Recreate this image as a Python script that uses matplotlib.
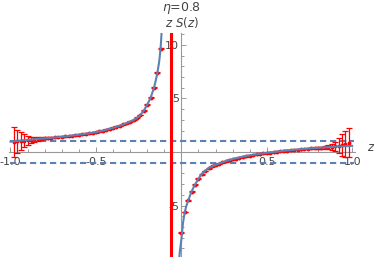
import matplotlib
matplotlib.use("Agg")
import matplotlib.pyplot as plt
import numpy as np

plt.rcParams['font.family'] = ['DejaVu Sans']
plt.rcParams['axes.unicode_minus'] = False

# theory curve (two branches around the pole)
curve_left_z = [-1.00, -0.95, -0.90, -0.85, -0.80, -0.75, -0.70, -0.65, -0.60, -0.55,
                -0.50, -0.45, -0.40, -0.35, -0.30, -0.28, -0.26, -0.24, -0.22, -0.20,
                -0.18, -0.16, -0.15, -0.14, -0.13, -0.125, -0.12, -0.115]
curve_left_f = [0.96, 1.05, 1.12, 1.20, 1.27, 1.34, 1.42, 1.51, 1.61, 1.72,
                1.85, 2.02, 2.25, 2.50, 2.83, 2.98, 3.18, 3.45, 3.85, 4.40,
                5.05, 6.00, 6.65, 7.40, 8.40, 9.10, 10.0, 11.3]
curve_right_z = [-0.012, -0.008, -0.004, 0.00, 0.005, 0.01, 0.02, 0.03, 0.04, 0.05,
                 0.06, 0.07, 0.08, 0.10, 0.12, 0.14, 0.16, 0.18, 0.20, 0.23,
                 0.26, 0.30, 0.35, 0.40, 0.45, 0.50, 0.55, 0.60, 0.65, 0.70,
                 0.75, 0.80, 0.85, 0.90, 0.95, 1.00]
curve_right_f = [-9.9, -9.2, -8.7, -8.2, -7.4, -6.6, -5.6, -5.0, -4.55, -4.1,
                 -3.7, -3.35, -3.05, -2.5, -2.05, -1.75, -1.5, -1.35, -1.2, -1.02,
                 -0.85, -0.66, -0.47, -0.31, -0.19, -0.08, 0.02, 0.11, 0.19, 0.26,
                 0.33, 0.39, 0.44, 0.49, 0.53, 0.57]

# simulated data points with error bars
data_left_z = [-0.98, -0.96, -0.94, -0.92, -0.90, -0.88, -0.86, -0.84, -0.82, -0.80,
               -0.78, -0.76, -0.74, -0.72, -0.70, -0.68, -0.66, -0.64, -0.62, -0.60,
               -0.58, -0.56, -0.54, -0.52, -0.50, -0.48, -0.46, -0.44, -0.42, -0.40,
               -0.38, -0.36, -0.34, -0.32, -0.30, -0.28, -0.26, -0.24, -0.22, -0.20,
               -0.18, -0.16, -0.14, -0.12]
data_left_f = [0.96, 0.98, 1.02, 1.05, 1.10, 1.14, 1.18, 1.21, 1.24, 1.27,
               1.30, 1.33, 1.36, 1.39, 1.42, 1.45, 1.49, 1.53, 1.57, 1.61,
               1.65, 1.70, 1.75, 1.80, 1.85, 1.91, 1.98, 2.06, 2.15, 2.25,
               2.35, 2.45, 2.57, 2.70, 2.83, 2.98, 3.18, 3.45, 3.85, 4.40,
               5.05, 6.00, 7.40, 9.65]
data_left_err = [1.40, 1.10, 0.80, 0.60, 0.43, 0.30, 0.21, 0.15, 0.11, 0.08,
                 0.06, 0.05, 0.04, 0.04, 0.04, 0.04, 0.04, 0.04, 0.04, 0.04,
                 0.04, 0.04, 0.04, 0.04, 0.04, 0.04, 0.04, 0.04, 0.04, 0.04,
                 0.04, 0.04, 0.04, 0.04, 0.04, 0.04, 0.04, 0.04, 0.04, 0.04,
                 0.04, 0.04, 0.04, 0.04]
data_right_z = [0.00, 0.02, 0.04, 0.06, 0.08, 0.10, 0.12, 0.14, 0.16, 0.18,
                0.20, 0.22, 0.24, 0.26, 0.28, 0.30, 0.32, 0.34, 0.36, 0.38,
                0.40, 0.42, 0.44, 0.46, 0.48, 0.50, 0.52, 0.54, 0.56, 0.58,
                0.60, 0.62, 0.64, 0.66, 0.68, 0.70, 0.72, 0.74, 0.76, 0.78,
                0.80, 0.82, 0.84, 0.86, 0.88, 0.90, 0.92, 0.94, 0.96, 0.98]
data_right_f = [-7.55, -5.6, -4.5, -3.7, -3.05, -2.5, -2.1, -1.78, -1.52, -1.35,
                -1.2, -1.08, -0.97, -0.87, -0.78, -0.69, -0.61, -0.54, -0.47, -0.40,
                -0.34, -0.28, -0.23, -0.18, -0.13, -0.09, -0.05, -0.01, 0.03, 0.07,
                0.10, 0.13, 0.16, 0.19, 0.22, 0.25, 0.28, 0.31, 0.33, 0.36,
                0.38, 0.40, 0.43, 0.45, 0.48, 0.52, 0.58, 0.65, 0.73, 0.88]
data_right_err = [0.05, 0.04, 0.04, 0.04, 0.04, 0.04, 0.04, 0.04, 0.04, 0.04,
                  0.04, 0.04, 0.04, 0.04, 0.04, 0.04, 0.04, 0.04, 0.04, 0.04,
                  0.04, 0.04, 0.04, 0.04, 0.04, 0.04, 0.04, 0.04, 0.04, 0.04,
                  0.04, 0.04, 0.04, 0.04, 0.04, 0.04, 0.04, 0.04, 0.05, 0.06,
                  0.08, 0.10, 0.14, 0.20, 0.30, 0.45, 0.70, 1.00, 1.20, 1.38]

pole_z = -0.06
bound_levels = [1.0, -1.0]
xticks_major = [-1.0, -0.5, 0.5, 1.0]
yticks_major = [-5, 5, 10]

blue = '#5E81B5'
grey = '#444444'

fig = plt.figure(figsize=(3.74, 2.57), dpi=100)
ax = fig.add_axes([0.0235, 0.0, 0.925, 0.8716])
ax.set_xlim(-1.01, 1.015)
ax.set_ylim(-9.8, 11.1)

for lev in bound_levels:
    ax.plot([-1.0, 1.01], [lev, lev], color=blue, lw=1.5, ls=(0, (3, 1.8)), zorder=2)

ax.axvline(pole_z, color='red', lw=2.2, zorder=3)

ax.errorbar(data_left_z, data_left_f, yerr=data_left_err, fmt='o', ms=1.8,
            color='red', ecolor='red', elinewidth=0.9, capsize=2, capthick=0.9, zorder=3)
ax.errorbar(data_right_z, data_right_f, yerr=data_right_err, fmt='o', ms=1.8,
            color='red', ecolor='red', elinewidth=0.9, capsize=2, capthick=0.9, zorder=3)

ax.plot(curve_left_z, curve_left_f, color=blue, lw=1.5, zorder=4)
ax.plot(curve_right_z, curve_right_f, color=blue, lw=1.5, zorder=4)

# axes through the origin
for s in ['top', 'right']:
    ax.spines[s].set_visible(False)
ax.spines['left'].set_position(('data', 0))
ax.spines['bottom'].set_position(('data', 0))
for s in ['left', 'bottom']:
    ax.spines[s].set_color('#999999')
    ax.spines[s].set_linewidth(0.8)
    ax.spines[s].set_zorder(1)

ax.set_xticks(xticks_major)
ax.set_xticklabels(['-1.0', '-0.5', '0.5', '1.0'])
ax.set_xticks(np.arange(-1.0, 1.01, 0.1), minor=True)
ax.set_yticks(yticks_major)
ax.set_yticklabels(['-5', '5', '10'])
ax.set_yticks(np.arange(-9, 12, 1), minor=True)
ax.tick_params(which='both', direction='in', color='#999999', width=0.7,
               labelsize=8, labelcolor=grey)
ax.tick_params(axis='x', which='major', pad=3.5)
ax.tick_params(axis='y', which='major', pad=1.5)
ax.tick_params(which='major', length=3.5)
ax.tick_params(which='minor', length=2)

ax.text(1.085, 0.4, 'z', style='italic', fontsize=8.5, color=grey,
        transform=ax.transData, ha='left', va='center', clip_on=False)
fig.text(182 / 374, 1 - 22 / 257, '$z\\ S(z)$', fontsize=8.5, color=grey,
         ha='center', va='center')
fig.text(182 / 374, 1 - 8 / 257, '$\\eta$=0.8', fontsize=9, color=grey,
         ha='center', va='center')

fig.savefig('out.png', dpi=100)
